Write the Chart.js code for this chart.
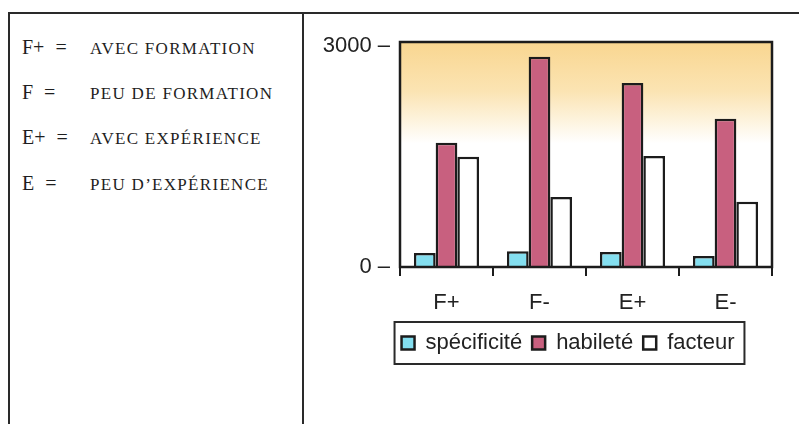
<!DOCTYPE html>
<html>
<head>
<meta charset="utf-8">
<script src="https://cdn.jsdelivr.net/npm/chart.js@4.4.1/dist/chart.umd.min.js"></script>
<style>
  html, body { margin: 0; padding: 0; background: #fff; }
  #wrap { position: relative; width: 799px; height: 424px; overflow: hidden; }
  #c { position: absolute; left: 0; top: 0; }
  .rule { position: absolute; background: #2a2a2a; }
  .key { position: absolute; left: 22px; height: 24px; line-height: 24px; white-space: nowrap;
         font-family: "Liberation Serif", "DejaVu Serif", serif; color: #1e1e1e; }
  .key .code { display: inline-block; width: 68px; font-size: 20px; word-spacing: 6px; }
  .key .desc { font-size: 17px; letter-spacing: 1.3px; }
</style>
</head>
<body>
<div id="wrap">
  <div class="rule" style="left:8px;top:12px;width:791px;height:2px;"></div>
  <div class="rule" style="left:8px;top:12px;width:2px;height:412px;"></div>
  <div class="rule" style="left:302px;top:12px;width:2px;height:412px;"></div>

  <div class="key" style="top:35px;"><span class="code">F+ =</span><span class="desc">AVEC FORMATION</span></div>
  <div class="key" style="top:80px;"><span class="code">F =</span><span class="desc">PEU DE FORMATION</span></div>
  <div class="key" style="top:125px;"><span class="code">E+ =</span><span class="desc">AVEC EXPÉRIENCE</span></div>
  <div class="key" style="top:171px;"><span class="code">E =</span><span class="desc">PEU D’EXPÉRIENCE</span></div>

  <canvas id="c" width="799" height="424"></canvas>
</div>
<script>
// Groups along the x axis
const categories = ['F+', 'F-', 'E+', 'E-'];
// Series values per group
const specificite = [190, 215, 205, 150];
const habilete = [1685, 2850, 2495, 2010];
const facteur = [1495, 950, 1505, 885];
// Labelled values on the y axis
const yTicks = [0, 3000];

const INK = '#1c1c1c';
const FONT = '"Liberation Sans", Arial, sans-serif';
const LEGEND_CENTER_X = 568;

// Warm wash at the top of the plot area, fading to white
const plotBackground = {
  id: 'plotBackground',
  beforeDraw(chart) {
    const { ctx, chartArea: a } = chart;
    const g = ctx.createLinearGradient(0, a.top, 0, a.bottom);
    g.addColorStop(0, '#f9d690');
    g.addColorStop(0.22, '#fbe4b3');
    g.addColorStop(0.45, '#ffffff');
    g.addColorStop(1, '#ffffff');
    ctx.save();
    ctx.fillStyle = g;
    ctx.fillRect(a.left, a.top, a.right - a.left, a.bottom - a.top);
    ctx.restore();
  }
};

// Closed frame around the plot area
const plotFrame = {
  id: 'plotFrame',
  afterDatasetsDraw(chart) {
    const { ctx, chartArea: a } = chart;
    ctx.save();
    ctx.strokeStyle = INK;
    ctx.lineWidth = 2.5;
    ctx.strokeRect(a.left, a.top, a.right - a.left, a.bottom - a.top);
    ctx.restore();
  }
};

// Slide the legend sideways so it sits under the middle of the panel
const legendShift = {
  id: 'legendShift',
  afterLayout(chart) {
    const lg = chart.legend;
    if (!lg) return;
    const dx = LEGEND_CENTER_X - (lg.left + lg.right) / 2;
    lg.left += dx;
    lg.right += dx;
  }
};

// Box drawn around the legend entries
const legendFrame = {
  id: 'legendFrame',
  afterDraw(chart) {
    const boxes = chart.legend && chart.legend.legendHitBoxes;
    if (!boxes || !boxes.length) return;
    const first = boxes[0], last = boxes[boxes.length - 1];
    const cy = first.top + first.height / 2;
    const x0 = first.left - 7, x1 = last.left + last.width + 10;
    const ctx = chart.ctx;
    ctx.save();
    ctx.strokeStyle = '#2a2a2a';
    ctx.lineWidth = 2;
    ctx.strokeRect(x0, cy - 21, x1 - x0, 42);
    ctx.restore();
  }
};

new Chart(document.getElementById('c'), {
  type: 'bar',
  data: {
    labels: categories,
    datasets: [
      { label: 'spécificité', data: specificite, backgroundColor: '#84dff0', borderColor: INK, borderWidth: 2.5 },
      { label: 'habileté', data: habilete, backgroundColor: '#c8607f', borderColor: INK, borderWidth: 2.5 },
      { label: 'facteur', data: facteur, backgroundColor: '#ffffff', borderColor: INK, borderWidth: 2.5 }
    ]
  },
  options: {
    responsive: false,
    animation: false,
    devicePixelRatio: 1,
    layout: { padding: { left: 322, right: 27, top: 42, bottom: 60 } },
    datasets: { bar: { categoryPercentage: 0.7, barPercentage: 1.0, borderSkipped: 'start' } },
    scales: {
      x: {
        offset: true,
        border: { display: false },
        grid: { display: true, drawOnChartArea: false, drawTicks: true, tickLength: 9, color: INK, lineWidth: 2 },
        ticks: { color: '#222', font: { family: FONT, size: 22 }, padding: 14, maxRotation: 0 },
        afterFit(scale) { scale.height = 55; }
      },
      y: {
        min: 0,
        max: 3050,
        border: { display: false },
        grid: { display: false, drawTicks: false },
        afterBuildTicks(scale) { scale.ticks = yTicks.map(v => ({ value: v })); },
        ticks: {
          color: '#222',
          font: { family: FONT, size: 22 },
          padding: 10,
          callback: v => v + ' –'
        },
        afterFit(scale) { scale.width = 78; }
      }
    },
    plugins: {
      legend: {
        position: 'bottom',
        labels: {
          color: '#222',
          font: { family: FONT, size: 22 },
          boxWidth: 13,
          boxHeight: 13,
          padding: 10
        }
      },
      tooltip: { enabled: false }
    }
  },
  plugins: [plotBackground, plotFrame, legendShift, legendFrame]
});
</script>
</body>
</html>
